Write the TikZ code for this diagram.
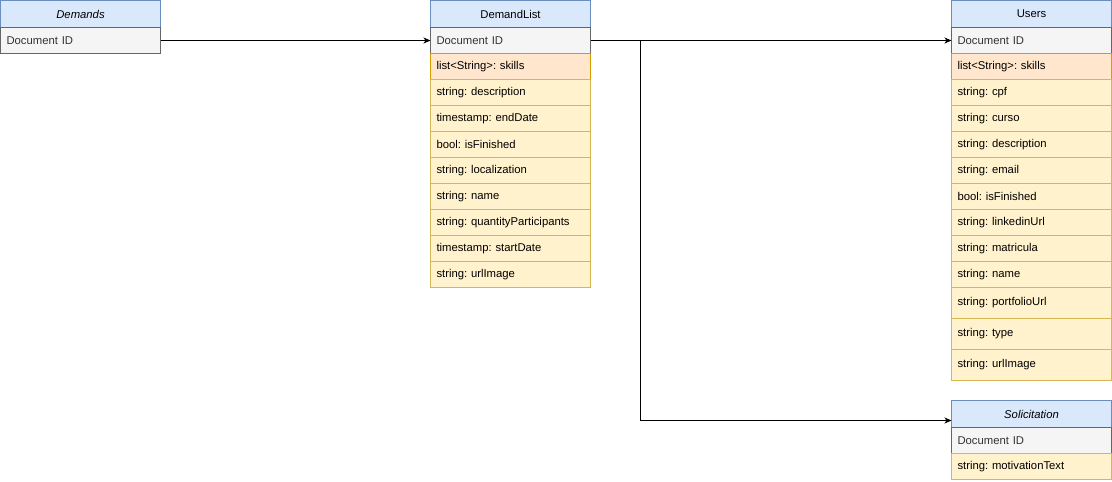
\documentclass[tikz,border=0pt]{standalone}
\usepackage{fontspec}
\setmainfont{Liberation Sans}
\usepackage{tikz}
\usetikzlibrary{arrows.meta, positioning}
\definecolor{headfill}{HTML}{DAE8FC}
\definecolor{headline}{HTML}{6C8EBF}
\definecolor{idfill}{HTML}{F5F5F5}
\definecolor{idline}{HTML}{666666}
\definecolor{idtext}{HTML}{333333}
\definecolor{keyfill}{HTML}{FFE6CC}
\definecolor{keyline}{HTML}{D79B00}
\definecolor{fieldfill}{HTML}{FFF2CC}
\definecolor{fieldline}{HTML}{D6B656}
\frenchspacing

\begin{document}
\begin{tikzpicture}[x=1pt, y=-1pt, node distance=0pt, line width=1pt,
  row/.style={rectangle, draw, minimum width=160pt, minimum height=26pt, inner xsep=6pt, inner ysep=0pt, outer sep=0pt, text width=148pt, align=left, font=\fontsize{11.3}{13}\selectfont\frenchspacing},
  tbhead/.style={row, fill=headfill, draw=headline, minimum height=27pt, align=center},
  tbid/.style={row, fill=idfill, draw=idline, text=idtext},
  tbkey/.style={row, fill=keyfill, draw=keyline},
  tbfield/.style={row, fill=fieldfill, draw=fieldline},
  tall/.style={minimum height=31pt},
  link/.style={draw=black, line width=1pt, -{Stealth[length=7pt, width=6pt, inset=2pt]}}]

\useasboundingbox (0,0) rectangle (1112,482);

% Demands
\node[tbhead, anchor=north west] (dmhead) at (0.5,0.5) {\itshape Demands};
\node[tbid, below=of dmhead] (dmid) {Document ID};

% DemandList
\node[tbhead, anchor=north west] (dlhead) at (430.5,0.5) {DemandList};
\node[tbid, below=of dlhead] (dlid) {Document ID};
\node[tbkey, below=of dlid] (dlskills) {list<String>: skills};
\node[tbfield, below=of dlskills] (dldesc) {string: description};
\node[tbfield, below=of dldesc] (dlend) {timestamp: endDate};
\node[tbfield, below=of dlend] (dlfin) {bool: isFinished};
\node[tbfield, below=of dlfin] (dlloc) {string: localization};
\node[tbfield, below=of dlloc] (dlname) {string: name};
\node[tbfield, below=of dlname] (dlqty) {string: quantityParticipants};
\node[tbfield, below=of dlqty] (dlstart) {timestamp: startDate};
\node[tbfield, below=of dlstart] (dlimg) {string: urlImage};

% Users
\node[tbhead, anchor=north west] (ushead) at (951.5,0.5) {Users};
\node[tbid, below=of ushead] (usid) {Document ID};
\node[tbkey, below=of usid] (usskills) {list<String>: skills};
\node[tbfield, below=of usskills] (uscpf) {string: cpf};
\node[tbfield, below=of uscpf] (uscurso) {string: curso};
\node[tbfield, below=of uscurso] (usdesc) {string: description};
\node[tbfield, below=of usdesc] (usmail) {string: email};
\node[tbfield, below=of usmail] (usfin) {bool: isFinished};
\node[tbfield, below=of usfin] (uslinked) {string: linkedinUrl};
\node[tbfield, below=of uslinked] (usmat) {string: matricula};
\node[tbfield, below=of usmat] (usname) {string: name};
\node[tbfield, tall, below=of usname] (usport) {string: portfolioUrl};
\node[tbfield, tall, below=of usport] (ustype) {string: type};
\node[tbfield, tall, below=of ustype] (usimg) {string: urlImage};

% Solicitation
\node[tbhead, anchor=north west] (sohead) at (951.5,400.5) {\itshape Solicitation};
\node[tbid, below=of sohead] (soid) {Document ID};
\node[tbfield, below=of soid] (somot) {string: motivationText};

% links
\coordinate (split) at (640,40);
\coordinate (soin) at ([yshift=-6.5pt]sohead.west);
\draw[link] (dmid.east) -- (dlid.west);
\draw[link] (dlid.east) -- (usid.west);
\draw[link] (split) |- (soin);
\end{tikzpicture}
\end{document}
